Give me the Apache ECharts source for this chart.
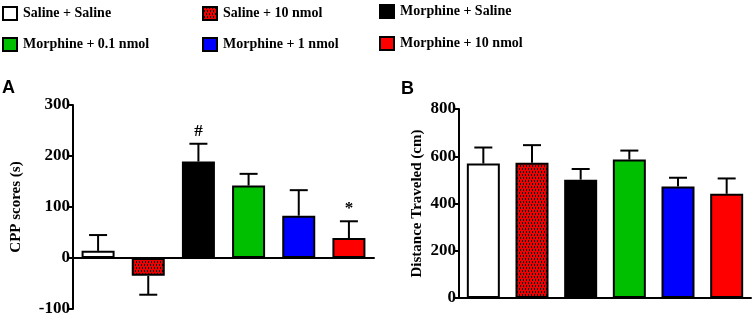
<!DOCTYPE html>
<html>
<head>
<meta charset="utf-8">
<script src="https://cdn.jsdelivr.net/npm/echarts@6/dist/echarts.min.js"></script>
<style>
  html, body { margin: 0; padding: 0; background: #fff; }
  #chart { width: 754px; height: 318px; }
</style>
</head>
<body>
<div id="chart"></div>
<script>
// groups (legend order = bar order)
var groups = [
  "Saline + Saline",
  "Saline + 10 nmol",
  "Morphine + Saline",
  "Morphine + 0.1 nmol",
  "Morphine + 1 nmol",
  "Morphine + 10 nmol"
];
// panel A: CPP scores (s), mean and SEM
var cppMean = [14, -35, 189, 142, 83, 39];
var cppErr = [31, 37, 35, 23, 50, 33];
var cppMarks = ["", "", "#", "", "", "*"];
// panel B: distance traveled (cm)
var distMean = [569, 572, 501, 586, 472, 441];
var distErr = [68, 75, 45, 38, 37, 65];
var cppTicks = { min: -100, max: 300, interval: 100 };
var distTicks = { min: 0, max: 800, interval: 200 };

// red fill with black dot pattern for the Saline + 10 nmol bar
var tile = document.createElement("canvas");
tile.width = 6;
tile.height = 6;
var tctx = tile.getContext("2d");
tctx.fillStyle = "#ee0000";
tctx.fillRect(0, 0, 6, 6);
tctx.fillStyle = "#000000";
[[0, 0], [3, 0], [1, 3], [4, 3], [0, 1], [3, 1], [1, 4], [4, 4]].forEach(function (p) {
  tctx.fillRect(p[0], p[1], 1, 1);
});
var hatch = { image: tile, repeat: "repeat" };

var colors = ["#ffffff", hatch, "#000000", "#00bf00", "#0000ff", "#ff0000"];

var serifFont = "'Liberation Serif', 'Times New Roman', serif";

function makeBars(means, axisIdx) {
  return groups.map(function (name, k) {
    return {
      name: name,
      type: "bar",
      xAxisIndex: axisIdx,
      yAxisIndex: axisIdx,
      barWidth: 33,
      barGap: "-100%",
      itemStyle: { color: colors[k], borderColor: "#000", borderWidth: 2 },
      data: means.map(function (v, i) {
        return i === k ? v : "-";
      }),
    };
  });
}

function makeErr(means, errs, marks, axisIdx) {
  return {
    type: "custom",
    xAxisIndex: axisIdx,
    yAxisIndex: axisIdx,
    z: 3,
    silent: true,
    data: means.map(function (v, i) {
      return [i, v, errs[i]];
    }),
    renderItem: function (params, api) {
      var i = api.value(0);
      var v = api.value(1);
      var e = api.value(2);
      var base = api.coord([i, v]);
      var end = api.coord([i, v >= 0 ? v + e : v - e]);
      var x = base[0];
      var cap = 9;
      var st = { stroke: "#000", lineWidth: 2 };
      var kids = [
        { type: "line", shape: { x1: x, y1: base[1], x2: x, y2: end[1] }, style: st },
        { type: "line", shape: { x1: x - cap, y1: end[1], x2: x + cap, y2: end[1] }, style: st },
      ];
      var m = marks ? marks[params.dataIndex] : "";
      if (m) {
        kids.push({
          type: "text",
          x: x,
          y: end[1] - 4,
          style: {
            text: m,
            fill: "#000",
            font: "bold 17px " + serifFont,
            align: "center",
            verticalAlign: "bottom",
          },
        });
      }
      return { type: "group", children: kids };
    },
  };
}

function yAxisOpt(idx, ticks, name, gap) {
  return {
    type: "value",
    gridIndex: idx,
    min: ticks.min,
    max: ticks.max,
    interval: ticks.interval,
    name: name,
    nameLocation: "middle",
    nameGap: gap,
    nameTextStyle: { color: "#000", fontFamily: serifFont, fontWeight: "bold", fontSize: 15 },
    axisLine: { show: true, lineStyle: { color: "#000", width: 2 } },
    axisTick: { show: true, length: 4, lineStyle: { color: "#000", width: 2 } },
    axisLabel: { color: "#000", fontFamily: serifFont, fontWeight: "bold", fontSize: 17, margin: 3 },
    splitLine: { show: false },
  };
}

function xAxisOpt(idx) {
  return {
    type: "category",
    gridIndex: idx,
    data: groups,
    axisLine: { show: true, onZero: true, lineStyle: { color: "#000", width: 2 } },
    axisTick: { show: false },
    axisLabel: { show: false },
  };
}

// legend placement: 3 columns x 2 rows
var legendPos = [
  [2, 6], [202, 6], [379, 4],
  [2, 37], [202, 37], [379, 36]
];
var legends = groups.map(function (name, k) {
  return {
    left: legendPos[k][0],
    top: legendPos[k][1],
    data: [name],
    icon: "rect",
    itemWidth: 14,
    itemHeight: 13,
    selectedMode: false,
    padding: 0,
    textStyle: { color: "#000", fontFamily: serifFont, fontWeight: "bold", fontSize: 14, padding: [0, 0, 0, 1] },
  };
});

var option = {
  animation: false,
  legend: legends,
  grid: [
    { left: 73, right: 380, top: 105, bottom: 9 },
    { left: 459, right: 3, top: 109, bottom: 20 },
  ],
  xAxis: [xAxisOpt(0), xAxisOpt(1)],
  yAxis: [
    yAxisOpt(0, cppTicks, "CPP scores (s)", 49),
    yAxisOpt(1, distTicks, "Distance Traveled (cm)", 34),
  ],
  graphic: [
    { type: "text", left: 2, top: 79, style: { text: "A", font: "bold 18px 'Liberation Sans', Arial, sans-serif", fill: "#000" } },
    { type: "text", left: 401, top: 80, style: { text: "B", font: "bold 18px 'Liberation Sans', Arial, sans-serif", fill: "#000" } },
  ],
  series: makeBars(cppMean, 0)
    .concat(makeBars(distMean, 1))
    .concat([makeErr(cppMean, cppErr, cppMarks, 0), makeErr(distMean, distErr, null, 1)]),
};

var chart = echarts.init(document.getElementById("chart"), null, { renderer: "canvas" });
chart.setOption(option);
window.addEventListener("resize", function () {
  chart.resize();
});
</script>
</body>
</html>
